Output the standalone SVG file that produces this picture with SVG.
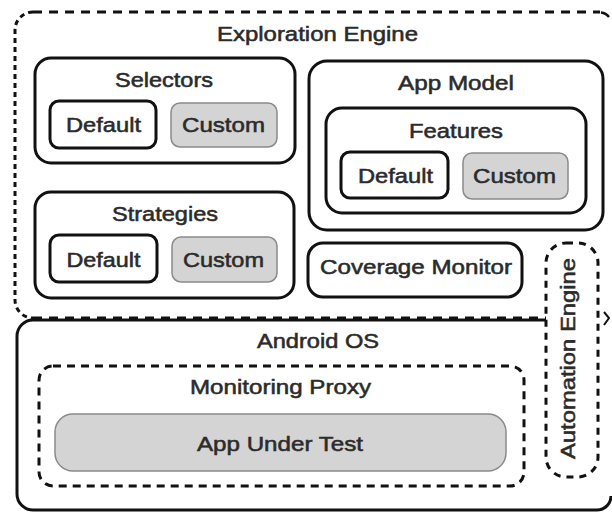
<svg xmlns="http://www.w3.org/2000/svg" width="612" height="513" viewBox="0 0 612 513">
  <style>
    .box { fill: none; stroke: #111; stroke-width: 3; }
    .opt { fill: #fff; stroke: #111; stroke-width: 3; }
    .custom { fill: #d4d4d4; stroke: #8a8a8a; stroke-width: 1.5; }
    .dashH { fill: none; stroke: #111; stroke-width: 3; stroke-dasharray: 9 7; }
    .dashV { fill: none; stroke: #111; stroke-width: 3; stroke-dasharray: 5 4; }
    .dashed { fill: #fff; stroke: #111; stroke-width: 3; stroke-dasharray: 7 6; }
    text { font-family: "Liberation Sans", Arial, Helvetica, sans-serif; font-size: 21px; fill: #2b2b2b; stroke: #2b2b2b; stroke-width: 0.55; text-anchor: middle; }
  </style>
  <rect width="612" height="513" fill="#fff"/>

  <!-- Exploration Engine container; its right side lies past the canvas edge -->
  <g id="exploration-engine">
    <path class="dashH" d="M33 12 H600"/>
    <path class="dashV" d="M33 12 A18 18 0 0 0 15 30 V300 A18 18 0 0 0 33 318"/>
    <path class="box" d="M601 12.5 A12 12 0 0 1 609 17" style="stroke-width:2.5"/>
    <path class="box" d="M604 312 L609 318 L604 325" style="stroke-width:2"/>
    <text x="317.5" y="41" textLength="201" lengthAdjust="spacingAndGlyphs">Exploration Engine</text>
  </g>

  <!-- Android OS container; right side also runs off the canvas -->
  <g id="android-os">
    <path class="box" d="M546 320 H33 A16 16 0 0 0 17 336 V494 A16 16 0 0 0 33 510 H597 A14 14 0 0 0 611 496"/>
    <text x="318" y="348" textLength="122" lengthAdjust="spacingAndGlyphs">Android OS</text>
  </g>

  <!-- shared bottom edge of the engine, drawn over the OS border -->
  <path class="dashH" d="M33 318 H546"/>

  <g id="selectors">
    <rect class="box" x="35" y="58" width="260" height="105" rx="16"/>
    <text x="164" y="87" textLength="98" lengthAdjust="spacingAndGlyphs">Selectors</text>
    <g id="selectors-default">
      <rect class="opt" x="50" y="101" width="106" height="47" rx="9"/>
      <text x="103.5" y="132" textLength="75" lengthAdjust="spacingAndGlyphs">Default</text>
    </g>
    <g id="selectors-custom">
      <rect class="custom" x="171" y="103" width="106" height="44" rx="9"/>
      <text x="223.5" y="132" textLength="83" lengthAdjust="spacingAndGlyphs">Custom</text>
    </g>
  </g>

  <g id="strategies">
    <rect class="box" x="35" y="192" width="259" height="106" rx="16"/>
    <text x="165" y="221" textLength="106" lengthAdjust="spacingAndGlyphs">Strategies</text>
    <g id="strategies-default">
      <rect class="opt" x="50" y="235" width="107" height="47" rx="9"/>
      <text x="103.5" y="267" textLength="74" lengthAdjust="spacingAndGlyphs">Default</text>
    </g>
    <g id="strategies-custom">
      <rect class="custom" x="172" y="237" width="105" height="45" rx="9"/>
      <text x="223.5" y="267" textLength="81" lengthAdjust="spacingAndGlyphs">Custom</text>
    </g>
  </g>

  <g id="app-model">
    <rect class="box" x="309" y="61" width="294" height="169" rx="18"/>
    <text x="456" y="90" textLength="116" lengthAdjust="spacingAndGlyphs">App Model</text>
    <g id="features">
      <rect class="box" x="326" y="108" width="260" height="105" rx="16"/>
      <text x="456" y="138" textLength="94" lengthAdjust="spacingAndGlyphs">Features</text>
      <g id="features-default">
        <rect class="opt" x="341" y="152" width="107" height="46" rx="9"/>
        <text x="395.5" y="183" textLength="75" lengthAdjust="spacingAndGlyphs">Default</text>
      </g>
      <g id="features-custom">
        <rect class="custom" x="463" y="153" width="105" height="46" rx="9"/>
        <text x="514.5" y="183" textLength="83" lengthAdjust="spacingAndGlyphs">Custom</text>
      </g>
    </g>
  </g>

  <g id="coverage-monitor">
    <rect class="box" x="308" y="243" width="214" height="54" rx="15"/>
    <text x="416" y="274" textLength="192" lengthAdjust="spacingAndGlyphs">Coverage Monitor</text>
  </g>

  <g id="automation-engine">
    <rect class="dashed" x="546" y="243" width="52" height="234" rx="20"/>
    <text x="0" y="0" transform="translate(575 358.5) rotate(-90)" textLength="201" lengthAdjust="spacingAndGlyphs">Automation Engine</text>
  </g>

  <g id="monitoring-proxy">
    <rect class="dashed" x="39" y="366" width="485" height="120" rx="14" style="fill:none; stroke-dasharray: 8 6"/>
    <text x="280.5" y="394" textLength="181" lengthAdjust="spacingAndGlyphs">Monitoring Proxy</text>
    <g id="app-under-test">
      <rect class="custom" x="55" y="414" width="451" height="57" rx="18"/>
      <text x="280" y="451" textLength="166" lengthAdjust="spacingAndGlyphs">App Under Test</text>
    </g>
  </g>

  <!-- no connectors between nodes -->
  <g id="connectors"/>
</svg>
